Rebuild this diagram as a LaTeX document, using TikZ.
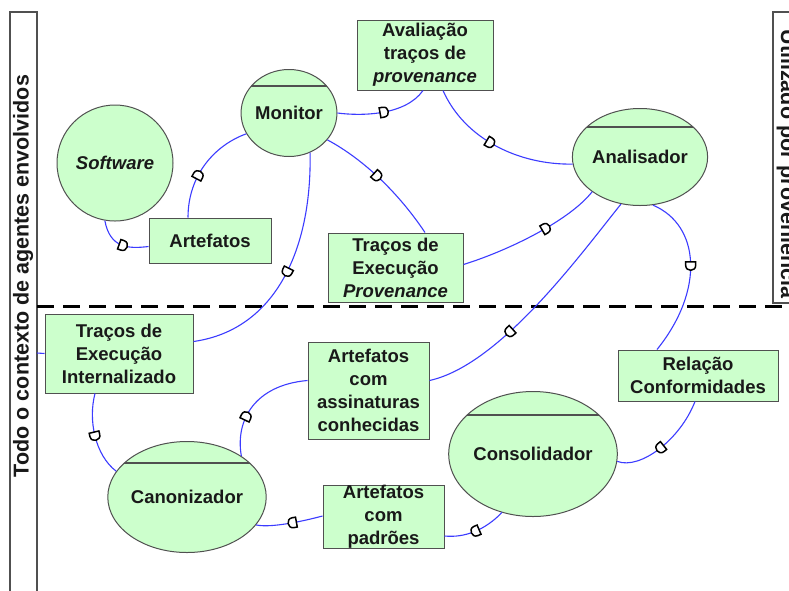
\documentclass[tikz,border=0pt]{standalone}
\usepackage{fontspec}
\setmainfont{Liberation Sans}
\usetikzlibrary{shapes.geometric,decorations.markings,calc}
\definecolor{pgreen}{RGB}{204,255,204}
\definecolor{pblue}{RGB}{60,60,255}
\definecolor{pgray}{RGB}{80,80,80}
\definecolor{ptext}{RGB}{25,25,25}
\newcommand\dlabelfont{\fontsize{18.5}{23}\selectfont\bfseries}
\newcommand\dsidefont{\fontsize{21.5}{25}\selectfont\bfseries}
\tikzset{
  procbase/.style={ellipse, draw=pgray, line width=1pt, fill=pgreen, inner sep=0pt, font=\dlabelfont, text=ptext},
  chord/.style={path picture={\draw[line width=2pt,draw=pgray] ([yshift=-#1]path picture bounding box.north west) -- ([yshift=-#1]path picture bounding box.north east);}},
  storebox/.style={draw=pgray, line width=1pt, fill=pgreen, inner sep=0pt, align=center, font=\dlabelfont, text=ptext},
  conn/.style={draw=pblue, line width=1.1pt},
  dmark/.style={postaction={decorate, decoration={markings, mark=at position #1 with {\draw[black, line width=1.5pt, fill=white] (-3.5pt,-5pt) -- (-3.5pt,5pt) -- (0pt,5pt) .. controls (6.5pt,5pt) and (6.5pt,-5pt) .. (0pt,-5pt) -- cycle;}}}},
  sidebar/.style={draw=pgray, line width=1.5pt}
}
\begin{document}
\begin{tikzpicture}[x=1pt,y=-1pt]
\useasboundingbox (0,0) rectangle (789,590);
\fill[white] (0,0) rectangle (789,590);

% side bars
\draw[sidebar] (10,12) rectangle (37,605);
\node[rotate=90, font=\dsidefont, text=ptext, inner sep=0pt] (lefttext) at (23,276) {Todo o contexto de agentes envolvidos};
\draw[sidebar] (773,12) rectangle (805,303);
\node[rotate=-90, font=\dsidefont, text=ptext, inner sep=0pt] (righttext) at (787,164) {Utilizado por proveniência};

% dashed separator
\coordinate (dl) at (37,306);
\coordinate (dr) at (789,306);
\draw[black, line width=3pt, dash pattern=on 17pt off 9pt] (dl) -- (dr);

% processes
\node[procbase, minimum width=116pt, minimum height=116pt] (software) at (115,163) {\itshape Software};
\node[procbase, chord=16pt, minimum width=86pt, minimum height=87pt] (monitor) at (289,113) {Monitor};
\node[procbase, chord=18pt, minimum width=112pt, minimum height=97pt] (analisador) at (640,157) {Analisador};
\node[procbase, chord=21pt, minimum width=127pt, minimum height=111pt] (canonizador) at (187,497) {Canonizador};
\node[procbase, chord=23pt, minimum width=140pt, minimum height=125pt] (consolidador) at (533,454) {Consolidador};

% stores
\node[storebox, minimum width=122pt, minimum height=45pt] (artefatos) at (210,240.5) {Artefatos};
\node[storebox, minimum width=136pt, minimum height=70pt] (avaliacao) at (425,55) {Avaliação\\traços de\\\textit{provenance}};
\node[storebox, minimum width=135pt, minimum height=69pt] (tracosprov) at (395.5,267.5) {Traços de\\Execução\\\textit{Provenance}};
\node[storebox, minimum width=148pt, minimum height=79pt] (tracosint) at (119,353.5) {Traços de\\Execução\\Internalizado};
\node[storebox, minimum width=121pt, minimum height=97pt] (assinaturas) at (368.5,390.5) {Artefatos\\com\\assinaturas\\conhecidas};
\node[storebox, minimum width=121pt, minimum height=62pt] (padroes) at (383.5,517) {Artefatos\\com\\padrões};
\node[storebox, minimum width=160pt, minimum height=51pt] (relacao) at (698,375.5) {Relação\\Conformidades};

% connectors
\draw[conn, dmark=0.55] (software.-100) .. controls (110,248) and (128,249) .. ([yshift=-6pt]artefatos.west);
\draw[conn, dmark=0.4] ([xshift=-22pt]artefatos.north) .. controls (188,175) and (215,145) .. (monitor.206);
\draw[conn, dmark=0.5] (monitor.0) .. controls (360,116) and (405,116) .. ([xshift=-2pt]avaliacao.south);
\draw[conn, dmark=0.45] ([xshift=18pt]avaliacao.south) .. controls (465,140) and (520,165) .. (analisador.186);
\draw[conn, dmark=0.45] (monitor.-35) .. controls (365,160) and (400,195) .. ([xshift=29.5pt]tracosprov.north);
\draw[conn, dmark=0.6] ([yshift=3pt]tracosprov.east) .. controls (510,250) and (570,220) .. (analisador.216);
\draw[conn, dmark=0.5] (monitor.-62) .. controls (312,250) and (275,330) .. ([yshift=12pt]tracosint.east);
\draw[conn, dmark=0.64] (analisador.-112) .. controls (580,255) and (500,365) .. ([yshift=10pt]assinaturas.east);
\draw[conn, dmark=0.45] (analisador.-75) .. controls (700,225) and (705,290) .. ([xshift=-41pt]relacao.north);
\draw[conn, dmark=0.55] ([xshift=-3pt]relacao.south) .. controls (680,440) and (640,470) .. (consolidador.-5);
\draw[conn, dmark=0.5] (consolidador.-118) .. controls (485,530) and (465,538) .. ([yshift=-19pt]padroes.east);
\draw[conn, dmark=0.45] ([yshift=1pt]padroes.west) .. controls (300,522) and (270,528) .. (canonizador.-22);
\draw[conn, dmark=0.35] (canonizador.37) .. controls (235,420) and (255,385) .. ([yshift=10pt]assinaturas.west);
\draw[conn, dmark=0.5] ([xshift=-24pt]tracosint.south) .. controls (88,420) and (95,455) .. (canonizador.160);
\coordinate (lb) at (37,353);
\draw[conn] (tracosint.west) -- (lb);
\end{tikzpicture}
\end{document}
